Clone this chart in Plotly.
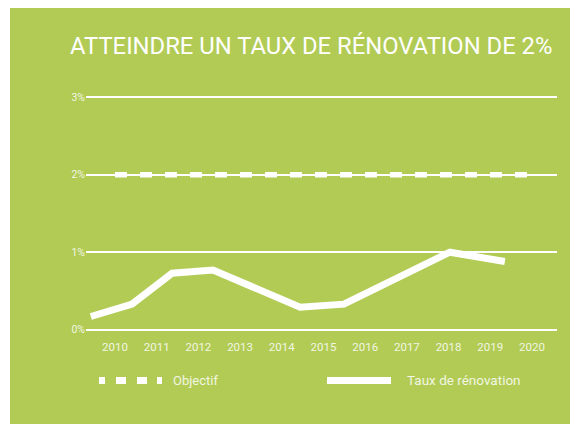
import plotly.graph_objects as go

# ---- data ----
taux_x = [2009.42, 2010.41, 2011.37, 2012.35, 2014.44, 2015.49, 2018.03, 2019.35]
taux_y = [0.17, 0.33, 0.73, 0.77, 0.29, 0.33, 1.00, 0.88]
objectif_x = [2010, 2020]
objectif_y = [2, 2]
year_ticks = list(range(2010, 2021))
pct_ticks = [0, 1, 2, 3]
pct_labels = ["0%", "1%", "2%", "3%"]
title_text = "ATTEINDRE UN TAUX DE RÉNOVATION DE 2%"
legend_labels = ["Objectif", "Taux de rénovation"]

W, H = 578, 424
OFF = 8  # page body margin
L, R, T, B = 78, 29, 87, 100
GREEN = "#B1CB55"
WHITE = "#FFFFFF"
TXT = "#F2F6E2"
FONT = "Roboto"

def px_x(p):
    return (p - OFF - L) / (W - L - R)

def px_y(p):
    return (H - B - (p - OFF)) / (H - T - B)

fig = go.Figure()
fig.add_trace(go.Scatter(
    x=objectif_x, y=objectif_y, mode="lines",
    line=dict(color=WHITE, width=5.5, dash="12px,13px"),
    name=legend_labels[0], showlegend=False, hoverinfo="skip"))
fig.add_trace(go.Scatter(
    x=taux_x, y=taux_y, mode="lines",
    line=dict(color=WHITE, width=7),
    name=legend_labels[1], showlegend=False, hoverinfo="skip"))

shapes = [
    dict(type="rect", xref="paper", yref="paper", x0=px_x(OFF), x1=px_x(10),
         y0=px_y(H + OFF), y1=px_y(OFF), fillcolor=WHITE, line=dict(width=0), layer="below"),
    # legend samples
    dict(type="line", xref="paper", yref="paper", x0=px_x(99), x1=px_x(162),
         y0=px_y(380.5), y1=px_y(380.5),
         line=dict(color=WHITE, width=7, dash="6px,11px,10px,11px,10px,10px,5px,20px")),
    dict(type="line", xref="paper", yref="paper", x0=px_x(327), x1=px_x(391),
         y0=px_y(380.5), y1=px_y(380.5), line=dict(color=WHITE, width=7)),
]

annotations = [
    dict(text=title_text, xref="paper", yref="paper", x=px_x(68), y=px_y(46),
         xanchor="left", yanchor="middle", showarrow=False,
         font=dict(family=FONT, size=23.8, color=WHITE)),
    dict(text=legend_labels[0], xref="paper", yref="paper", x=px_x(171), y=px_y(380),
         xanchor="left", yanchor="middle", showarrow=False,
         font=dict(family=FONT, size=13, color=TXT)),
    dict(text=legend_labels[1], xref="paper", yref="paper", x=px_x(405), y=px_y(380),
         xanchor="left", yanchor="middle", showarrow=False,
         font=dict(family=FONT, size=13.5, color=TXT)),
]

fig.update_layout(
    width=W, height=H,
    margin=dict(l=L, r=R, t=T, b=B, pad=0),
    paper_bgcolor=GREEN, plot_bgcolor=GREEN,
    showlegend=False,
    shapes=shapes, annotations=annotations,
    xaxis=dict(range=[2009.305, 2020.6], tickmode="array", tickvals=year_ticks,
               ticktext=[str(y) for y in year_ticks], showgrid=False, zeroline=False,
               showline=False, ticks="outside", ticklen=4, tickcolor="rgba(0,0,0,0)",
               tickfont=dict(family=FONT, size=11.5, color=TXT)),
    yaxis=dict(range=[-0.03, 3.03], tickmode="array", tickvals=pct_ticks,
               ticktext=pct_labels, showgrid=True, gridcolor=WHITE, gridwidth=2,
               zeroline=False, showline=False, ticks="",
               tickfont=dict(family=FONT, size=10.5, color=TXT)),
)

fig.write_html("out.html")
